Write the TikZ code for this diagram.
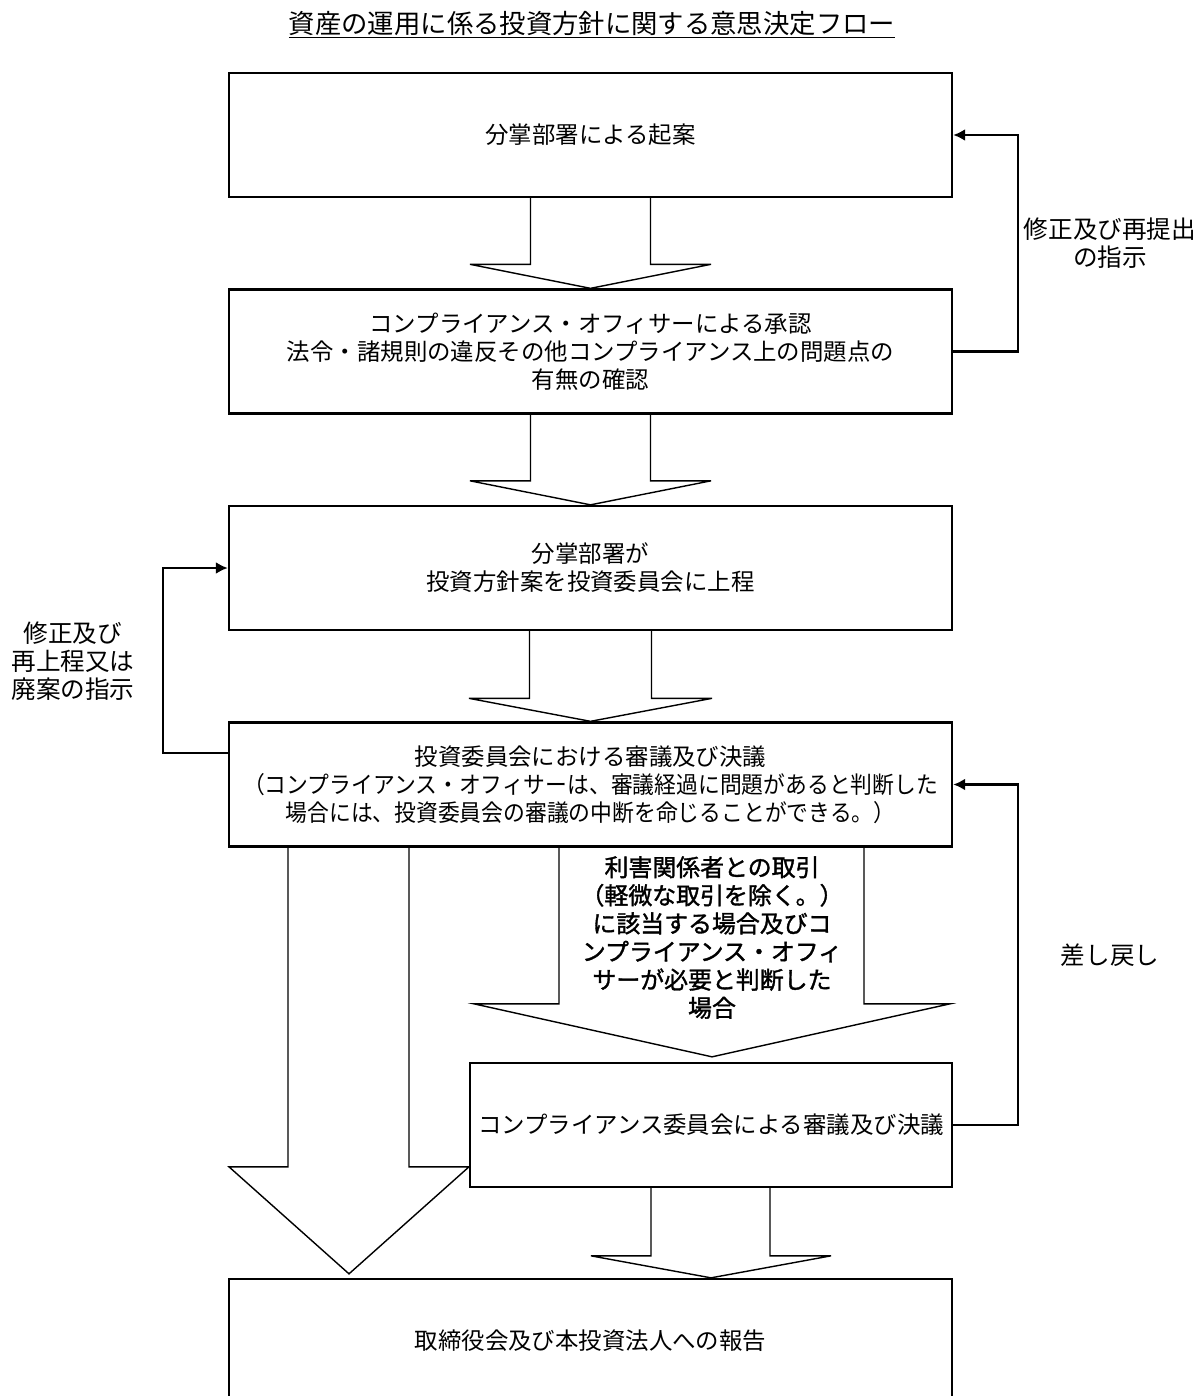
\documentclass[tikz,border=0pt]{standalone}
\usepackage{fontspec}
\usepackage{tikz}
\usetikzlibrary{arrows.meta}
\usetikzlibrary{calc}
\setmainfont{Noto Sans CJK JP}
\newfontfamily\jpnarrow[FakeStretch=0.93]{Noto Sans CJK JP}
\newfontfamily\jpbold[FakeBold=1.4]{Noto Sans CJK JP}

\begin{document}
\begin{tikzpicture}[x=0.03cm,y=-0.03cm]
\tikzset{>={Latex[width=3.6mm,length=3.6mm]}}
\tikzstyle{procbox} =[draw, line width=2pt, minimum width=21.69cm, minimum height=3.72cm, inner sep=0pt, align=center, font=\fontsize{20}{24}\selectfont]
\tikzstyle{bigarrow} =[draw, line width=1.2pt, line join=miter]
\tikzstyle{backline} =[draw, line width=2pt, ->]
\tikzstyle{note} =[align=center, font=\fontsize{21}{24}\selectfont]

\useasboundingbox (0,0) rectangle (1200,1396);

\node[font=\fontsize{22.5}{26}\selectfont](title) at (592,25){\underline{資産の運用に係る投資方針に関する意思決定フロー}};

\node[procbox](b1) at (590.5,135){分掌部署による起案};
\node[procbox](b2) at (590.5,351.5){コンプライアンス・オフィサーによる承認\\法令・諸規則の違反その他コンプライアンス上の問題点の\\有無の確認};
\node[procbox](b3) at (590.5,568){分掌部署が\\投資方針案を投資委員会に上程};
\node[procbox](b4) at (590.5,784.5){投資委員会における審議及び決議\\{\jpnarrow （コンプライアンス・オフィサーは、審議経過に問題があると判断した}\\{\jpnarrow 場合には、投資委員会の審議の中断を命じることができる。）}};
\node[procbox,minimum width=14.46cm](b5) at (711,1125){コンプライアンス委員会による審議及び決議};
\node[procbox](b6) at (590.5,1341){取締役会及び本投資法人への報告};

\coordinate (t4) at ($(b6.north)+(-241.5,-4)$);
\coordinate (t5) at ($(b5.north)+(1,-5)$);
\coordinate (t6) at (b5.south |- b6.north);

% block arrows
\draw[bigarrow] ($(b1.south)+(-60,0)$) |- ($(b2.north)+(-120.5,-24)$) -- (b2.north) -- ($(b2.north)+(120.5,-24)$) -| ($(b1.south)+(60,0)$);
\draw[bigarrow] ($(b2.south)+(-60,0)$) |- ($(b3.north)+(-120.5,-24)$) -- (b3.north) -- ($(b3.north)+(120.5,-24)$) -| ($(b2.south)+(60,0)$);
\draw[bigarrow] ($(b3.south)+(-61,0)$) |- ($(b4.north)+(-121.5,-23)$) -- (b4.north) -- ($(b4.north)+(121.5,-23)$) -| ($(b3.south)+(61,0)$);
\draw[bigarrow] ($(b4.south)+(-302.5,0)$) |- ($(t4)+(-120,-107)$) -- (t4) -- ($(t4)+(120,-107)$) -| ($(b4.south)+(-181.5,0)$);
\draw[bigarrow] ($(b4.south)+(-31.5,0)$) |- ($(t5)+(-238,-53)$) -- (t5) -- ($(t5)+(238,-53)$) -| ($(b4.south)+(273.5,0)$);
\draw[bigarrow] ($(b5.south)+(-60,0)$) |- ($(t6)+(-120,-22)$) -- (t6) -- ($(t6)+(120,-22)$) -| ($(b5.south)+(59,0)$);

\node[font=\fontsize{20.4}{24}\selectfont\jpbold, align=center](cond) at (712,937.5){利害関係者との取引\\（軽微な取引を除く。）\\に該当する場合及びコ\\ンプライアンス・オフィ\\サーが必要と判断した\\場合};

% feedback
\draw[backline] (b2.east) -- ++(65,0) |- (b1.east);
\draw[backline] ($(b4.west)+(0,-31.5)$) -- ++(-65,0) |- (b3.west);
\draw[backline] (b5.east) -- ++(65,0) |- (b4.east);

\node[note](n1) at (1110,243){修正及び再提出\\の指示};
\node[note](n2) at (73,661){修正及び\\再上程又は\\廃案の指示};
\node[note](n3) at (1110,955){差し戻し};
\end{tikzpicture}
\end{document}
